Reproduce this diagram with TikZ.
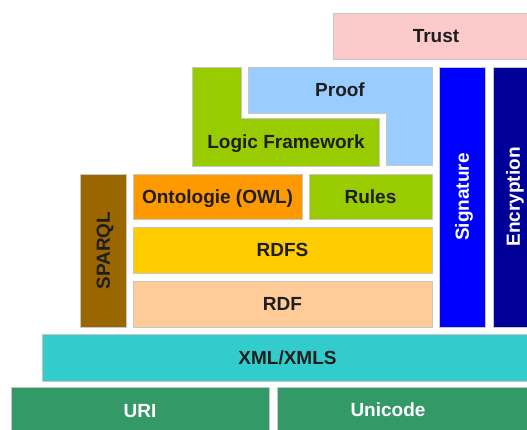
\documentclass[tikz,border=0pt]{standalone}
\usepackage{fontspec}
\setmainfont{Liberation Sans}
\definecolor{cTrust}{HTML}{FCCACA}
\definecolor{cProof}{HTML}{99CCFF}
\definecolor{cGreen}{HTML}{99CC00}
\definecolor{cSig}{HTML}{0000FF}
\definecolor{cEnc}{HTML}{000099}
\definecolor{cSparql}{HTML}{996600}
\definecolor{cOnt}{HTML}{FF9900}
\definecolor{cRdfs}{HTML}{FFCC00}
\definecolor{cRdf}{HTML}{FFCC99}
\definecolor{cXml}{HTML}{33CCCC}
\definecolor{cUri}{HTML}{339966}
\definecolor{cText}{HTML}{1E1E1E}
\begin{document}
\begin{tikzpicture}[x=1pt,y=-1pt,
  layer/.style={draw=black!22, line width=0.6pt, inner sep=0pt, outer sep=0pt,
    text height=13.6pt, text depth=0pt,
    font=\fontsize{19}{22}\selectfont\bfseries, text=cText},
  lbl/.style={inner sep=0pt, text height=13.6pt, text depth=0pt,
    font=\fontsize{19}{22}\selectfont\bfseries, text=cText}]
\useasboundingbox (0,0) rectangle (527,429);
\clip (0,0) rectangle (527,429);
\fill[white] (0,0) rectangle (527,429);
% Trust
\node[layer, fill=cTrust, minimum width=206pt, minimum height=46pt] (trust) at (436,36) {Trust};
% Proof (L-shape)
\draw[draw=black!22, line width=0.6pt, fill=cProof] (248,67) -- (432,67) -- (432,165) -- (386,165) -- (386,113) -- (248,113) -- cycle;
\node[lbl] (proof) at (340,90) {Proof};
% Logic Framework (L-shape)
\draw[draw=black!22, line width=0.6pt, fill=cGreen] (192,67) -- (241,67) -- (241,118) -- (379,118) -- (379,166) -- (192,166) -- cycle;
\node[lbl] (logic) at (286,142) {Logic Framework};
% Signature / Encryption
\node[layer, fill=cSig, text=white, rotate=90, minimum width=260pt, minimum height=46pt] (sig) at (462,197) {Signature};
\node[layer, fill=cEnc, text=white, rotate=90, minimum width=260pt, minimum height=40pt] (enc) at (513,197) {Encryption};
% SPARQL
\node[layer, fill=cSparql, text=cText, rotate=90, minimum width=153pt, minimum height=46pt] (sparql) at (103,250.5) {SPARQL};
% Ontology, Rules
\node[layer, fill=cOnt, minimum width=169pt, minimum height=45pt] (owl) at (217.5,196.5) {Ontologie (OWL)};
\node[layer, fill=cGreen, minimum width=123pt, minimum height=45pt] (rules) at (370.5,196.5) {Rules};
% RDFS, RDF
\node[layer, fill=cRdfs, minimum width=299pt, minimum height=46pt] (rdfs) at (282.5,250) {RDFS};
\node[layer, fill=cRdf, minimum width=299pt, minimum height=46pt] (rdf) at (282.5,304) {RDF};
% XML
\node[layer, fill=cXml, minimum width=491pt, minimum height=47pt] (xml) at (287.5,357.5) {XML/XMLS};
% URI, Unicode
\node[layer, fill=cUri, text=white, minimum width=258pt, minimum height=48pt] (uri) at (140,411) {URI};
\node[layer, fill=cUri, minimum width=263pt, minimum height=48pt] (unibox) at (408.5,411) {};
\node[lbl, text=white] (unicode) at (388,410) {Unicode};
\end{tikzpicture}
\end{document}
